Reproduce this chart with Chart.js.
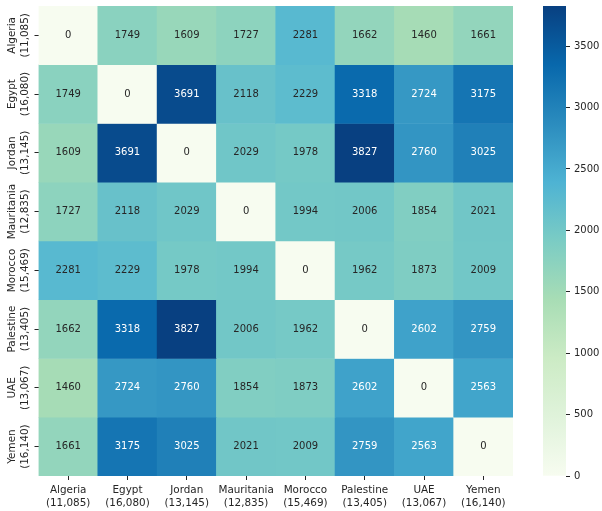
<!DOCTYPE html>
<html>
<head>
<meta charset="utf-8">
<title>Heatmap</title>
<script src="https://cdn.jsdelivr.net/npm/chart.js@4/dist/chart.umd.min.js"></script>
<style>
  html, body { margin: 0; padding: 0; background: #fff; }
  #wrap { position: relative; width: 602px; height: 511px; }
  canvas { position: absolute; left: 0; top: 0; }
</style>
</head>
<body>
<div id="wrap">
  <canvas id="heat" width="602" height="511"></canvas>
  <canvas id="bar" width="602" height="511"></canvas>
</div>
<script>
const countries = ['Algeria', 'Egypt', 'Jordan', 'Mauritania', 'Morocco', 'Palestine', 'UAE', 'Yemen'];
const counts = ['(11,085)', '(16,080)', '(13,145)', '(12,835)', '(15,469)', '(13,405)', '(13,067)', '(16,140)'];

const algeria = [0, 1749, 1609, 1727, 2281, 1662, 1460, 1661];
const egypt = [1749, 0, 3691, 2118, 2229, 3318, 2724, 3175];
const jordan = [1609, 3691, 0, 2029, 1978, 3827, 2760, 3025];
const mauritania = [1727, 2118, 2029, 0, 1994, 2006, 1854, 2021];
const morocco = [2281, 2229, 1978, 1994, 0, 1962, 1873, 2009];
const palestine = [1662, 3318, 3827, 2006, 1962, 0, 2602, 2759];
const uae = [1460, 2724, 2760, 1854, 1873, 2602, 0, 2563];
const yemen = [1661, 3175, 3025, 2021, 2009, 2759, 2563, 0];
const rows = [algeria, egypt, jordan, mauritania, morocco, palestine, uae, yemen];

const maxValue = 3827;
const colorbarTicks = [0, 500, 1000, 1500, 2000, 2500, 3000, 3500];

// GnBu
const palette = [[247,252,240],[224,243,219],[204,235,197],[168,221,181],[123,204,196],[78,179,211],[43,140,190],[8,104,172],[8,64,129]];

function rgbFor(value) {
    const t = value / maxValue * (palette.length - 1);
    const i = Math.min(Math.floor(t), palette.length - 2);
    const f = t - i;
    return palette[i].map((c, k) => Math.round(c + (palette[i + 1][k] - c) * f));
}

function cssFor(value) {
    const c = rgbFor(value);
    return `rgb(${c[0]}, ${c[1]}, ${c[2]})`;
}

// same rule seaborn uses for the annotation colour
function textFor(value) {
    const lin = rgbFor(value).map(c => {
        const s = c / 255;
        return s <= 0.03928 ? s / 12.92 : Math.pow((s + 0.055) / 1.055, 2.4);
    });
    const lum = 0.2126 * lin[0] + 0.7152 * lin[1] + 0.0722 * lin[2];
    return lum < 0.408 ? '#ffffff' : '#262626';
}

Chart.defaults.font.family = '"DejaVu Sans"';
Chart.defaults.font.size = 10;
Chart.defaults.color = '#262626';
Chart.defaults.animation = false;

const cellLabels = {
    id: 'cellLabels',
    afterDatasetsDraw(chart) {
        const ctx = chart.ctx;
        ctx.save();
        ctx.font = '10px "DejaVu Sans"';
        ctx.textAlign = 'center';
        ctx.textBaseline = 'middle';
        rows.forEach((row, r) => {
            row.forEach((value, c) => {
                ctx.fillStyle = textFor(value);
                ctx.fillText(String(value), chart.scales.x.getPixelForValue(c), chart.scales.y.getPixelForValue(r + 0.5));
            });
        });
        ctx.restore();
    }
};

// tick labels must not push the plot area in
function noOverflow(scale) {
    scale.paddingTop = 0;
    scale.paddingBottom = 0;
    scale.paddingLeft = 0;
    scale.paddingRight = 0;
}

new Chart(document.getElementById('heat'), {
    type: 'bar',
    data: {
        labels: countries.map((name, i) => [name, counts[i]]),
        datasets: rows.map((row, r) => ({
            data: row.map(() => [r, r + 1]),
            backgroundColor: row.map(cssFor),
            borderWidth: 0,
            grouped: false,
            barPercentage: 1,
            categoryPercentage: 1
        }))
    },
    options: {
        responsive: false,
        layout: { padding: { top: 6, right: 89, left: 0, bottom: 0 } },
        plugins: { legend: { display: false }, tooltip: { enabled: false } },
        scales: {
            x: {
                grid: { drawOnChartArea: false, tickLength: 4, color: '#262626', offset: false },
                border: { display: false },
                ticks: { maxRotation: 0, minRotation: 0, padding: 4, autoSkip: false, font: { size: 10.4, lineHeight: 1.22 } },
                afterFit(scale) { scale.height = 35; noOverflow(scale); }
            },
            y: {
                type: 'linear',
                min: 0,
                max: rows.length,
                reverse: true,
                grid: { drawOnChartArea: false, tickLength: 4, color: '#262626' },
                border: { display: false },
                afterBuildTicks(scale) {
                    scale.ticks = rows.map((row, i) => ({ value: i + 0.5 }));
                },
                ticks: {
                    minRotation: 90,
                    maxRotation: 90,
                    crossAlign: 'center',
                    padding: -12,
                    autoSkip: false,
                    font: { size: 10.4, lineHeight: 1.22 },
                    callback(value) {
                        const i = Math.floor(value);
                        return [countries[i], counts[i]];
                    }
                },
                afterFit(scale) { scale.width = 38.5; noOverflow(scale); }
            }
        }
    },
    plugins: [cellLabels]
});

new Chart(document.getElementById('bar'), {
    type: 'bar',
    data: {
        labels: ['colorbar'],
        datasets: [{
            data: [[0, maxValue]],
            borderWidth: 0,
            barPercentage: 1,
            categoryPercentage: 1,
            backgroundColor(context) {
                const area = context.chart.chartArea;
                if (!area) return '#084081';
                const g = context.chart.ctx.createLinearGradient(0, area.bottom, 0, area.top);
                palette.forEach((c, i) => g.addColorStop(i / (palette.length - 1), `rgb(${c[0]}, ${c[1]}, ${c[2]})`));
                return g;
            }
        }]
    },
    options: {
        responsive: false,
        layout: { padding: { top: 6, left: 543, right: 0, bottom: 35 } },
        plugins: { legend: { display: false }, tooltip: { enabled: false } },
        scales: {
            x: { display: false },
            y: {
                position: 'right',
                min: 0,
                max: maxValue,
                grid: { drawOnChartArea: false, tickLength: 4, color: '#262626' },
                border: { display: false },
                afterBuildTicks(scale) {
                    scale.ticks = colorbarTicks.map(value => ({ value }));
                },
                ticks: { padding: 4, autoSkip: false, callback: value => String(value) },
                afterFit(scale) { scale.width = 36; noOverflow(scale); }
            }
        }
    }
});
</script>
</body>
</html>
